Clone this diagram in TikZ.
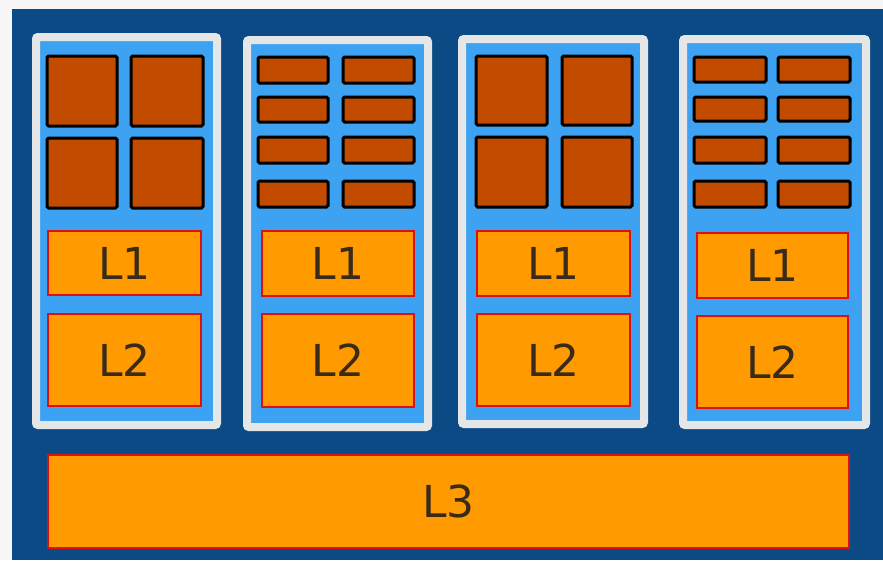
\documentclass[tikz,border=0pt]{standalone}
\usepackage{fontspec}
\setmainfont{DejaVu Sans}
\definecolor{darkbg}{HTML}{0B4A84}
\definecolor{panelblue}{HTML}{3EA2F2}
\definecolor{panelgray}{HTML}{E4E6E8}
\definecolor{corefill}{HTML}{C24B00}
\definecolor{cachefill}{HTML}{FF9A00}
\definecolor{cacheline}{HTML}{DD1111}
\definecolor{labeltext}{HTML}{3A2B18}
\newcommand{\rbox}[7]{%
  \pgfmathsetmacro\rbw{#5-#3}\pgfmathsetmacro\rbh{#6-#4}%
  \node[#1,minimum width=\rbw pt,minimum height=\rbh pt,anchor=north west] (#2) at (#3,#4) {#7};}
\begin{document}
\begin{tikzpicture}[x=1pt,y=-1pt,
  every node/.style={inner sep=0pt,outer sep=0pt,rectangle},
  panel/.style={fill=panelblue,draw=panelgray,line width=8pt,rounded corners=2pt},
  coreunit/.style={fill=corefill,draw=black,line width=3pt,rounded corners=1.5pt},
  cache/.style={fill=cachefill,draw=cacheline,line width=2.8pt,text=labeltext,font=\fontsize{44}{50}\selectfont}]
\useasboundingbox (0,0) rectangle (883,560);
\fill[white!94!gray] (0,0) rectangle (883,560);
\rbox{fill=darkbg}{bg}{12}{9}{883}{560}{}
% panels
\rbox{panel}{p1}{36}{37}{217}{425}{}
\rbox{panel}{p2}{247}{40}{428}{427}{}
\rbox{panel}{p3}{462}{39}{644}{424}{}
\rbox{panel}{p4}{683}{39}{866}{425}{}
% core 1: four big units
\rbox{coreunit}{c1a}{47}{56}{117}{126}{}
\rbox{coreunit}{c1b}{131}{56}{203}{126}{}
\rbox{coreunit}{c1c}{47}{138}{117}{208}{}
\rbox{coreunit}{c1d}{131}{138}{203}{208}{}
% core 2: eight small units
\rbox{coreunit}{c2a}{258}{57}{328}{83}{}
\rbox{coreunit}{c2b}{343}{57}{414}{83}{}
\rbox{coreunit}{c2c}{258}{97}{328}{122}{}
\rbox{coreunit}{c2d}{343}{97}{414}{122}{}
\rbox{coreunit}{c2e}{258}{137}{328}{163}{}
\rbox{coreunit}{c2f}{343}{137}{414}{163}{}
\rbox{coreunit}{c2g}{258}{181}{328}{207}{}
\rbox{coreunit}{c2h}{343}{181}{414}{207}{}
% core 3
\rbox{coreunit}{c3a}{476}{56}{547}{125}{}
\rbox{coreunit}{c3b}{562}{56}{632}{125}{}
\rbox{coreunit}{c3c}{476}{137}{547}{207}{}
\rbox{coreunit}{c3d}{562}{137}{632}{207}{}
% core 4
\rbox{coreunit}{c4a}{694}{57}{766}{82}{}
\rbox{coreunit}{c4b}{778}{57}{850}{82}{}
\rbox{coreunit}{c4c}{694}{97}{766}{121}{}
\rbox{coreunit}{c4d}{778}{97}{850}{121}{}
\rbox{coreunit}{c4e}{694}{137}{766}{163}{}
\rbox{coreunit}{c4f}{778}{137}{850}{163}{}
\rbox{coreunit}{c4g}{694}{181}{766}{207}{}
\rbox{coreunit}{c4h}{778}{181}{850}{207}{}
% caches
\rbox{cache}{l1a}{48}{231}{201}{295}{L1}
\rbox{cache}{l2a}{48}{314}{201}{406}{L2}
\rbox{cache}{l1b}{262}{231}{414}{296}{L1}
\rbox{cache}{l2b}{262}{314}{414}{407}{L2}
\rbox{cache}{l1c}{477}{231}{630}{296}{L1}
\rbox{cache}{l2c}{477}{314}{630}{406}{L2}
\rbox{cache}{l1d}{697}{233}{848}{298}{L1}
\rbox{cache}{l2d}{697}{316}{848}{408}{L2}
\rbox{cache}{l3}{48}{455}{849}{548}{L3}
\end{tikzpicture}
\end{document}
